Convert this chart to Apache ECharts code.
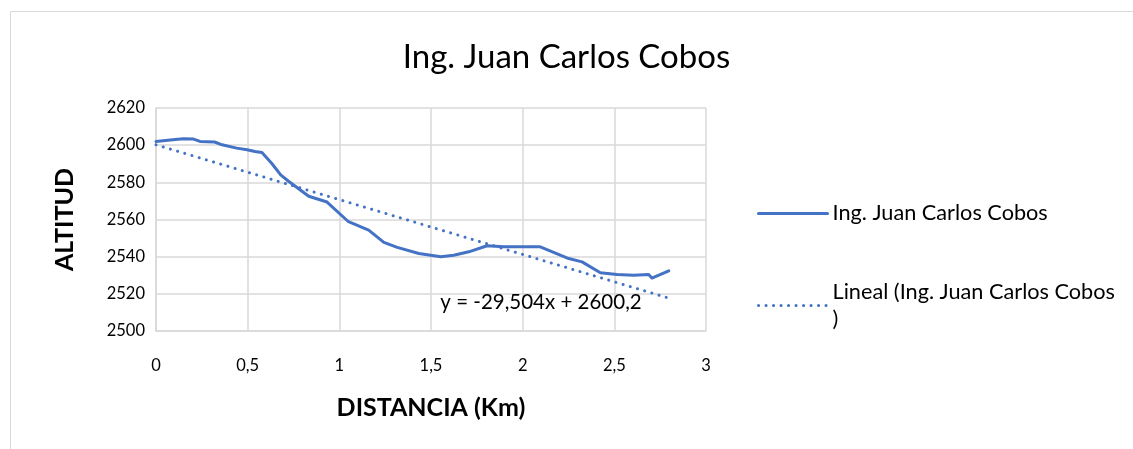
<!DOCTYPE html>
<html>
<head>
<meta charset="utf-8">
<script src="https://cdn.jsdelivr.net/npm/echarts@6/dist/echarts.min.js"></script>
<style>
html,body{margin:0;padding:0;background:#fff;}
#chart{width:1133px;height:449px;}
</style>
</head>
<body>
<div id="chart"></div>
<script>
// Data
const distanceKm = [0, 0.105, 0.15, 0.205, 0.24, 0.32, 0.36, 0.44, 0.497, 0.54, 0.578, 0.633, 0.68, 0.723, 0.833, 0.933, 1.05, 1.16, 1.243, 1.316, 1.434, 1.553, 1.624, 1.706, 1.806, 1.897, 2.04, 2.096, 2.169, 2.251, 2.324, 2.424, 2.515, 2.606, 2.687, 2.705, 2.797];
const altitude =   [2602, 2603, 2603.4, 2603.3, 2602, 2601.7, 2600.2, 2598.4, 2597.5, 2596.6, 2596, 2590, 2584, 2580.6, 2572.5, 2569.4, 2558.8, 2554.3, 2547.7, 2545, 2541.7, 2540, 2540.8, 2542.6, 2545.9, 2545.3, 2545.3, 2545.3, 2542.3, 2539, 2537.2, 2531.3, 2530.4, 2530, 2530.4, 2528.5, 2532.4];
const trendX = [0, 2.8];
const trendY = [2600.2, 2517.6];
const equationText = 'y = -29,504x + 2600,2';
const equationAt = [2.1, 2515.6];
const seriesName = 'Ing. Juan Carlos Cobos';
const trendName = 'Lineal (Ing. Juan Carlos Cobos)';
const titleText = 'Ing. Juan Carlos Cobos';
const xName = 'DISTANCIA (Km)';
const yName = 'ALTITUD';

const FONT = 'Lato, "Noto Sans", sans-serif';
const BLUE = '#4472C4';
const GRID = '#d9d9d9';

const chart = echarts.init(document.getElementById('chart'), null, {renderer: 'canvas'});
const option = {
  backgroundColor: '#fff',
  animation: false,
  textStyle: {fontFamily: FONT},
  graphic: [{
    type: 'rect', left: 8, top: 9, silent: true,
    shape: {width: 1200, height: 500},
    style: {fill: 'none', stroke: GRID, lineWidth: 1}
  }],
  title: {
    text: titleText, left: 'center', top: 36,
    textStyle: {fontFamily: FONT, fontSize: 33, fontWeight: 'normal', color: '#000'}
  },
  legend: {
    orient: 'vertical', left: 752, top: 195, itemWidth: 69, itemHeight: 14, itemGap: 38,
    itemStyle: {opacity: 0},
    lineStyle: {width: 3},
    textStyle: {fontFamily: FONT, fontSize: 21.7, color: '#000', lineHeight: 27},
    formatter: function (n) { return n === trendName ? 'Lineal (Ing. Juan Carlos Cobos\n)' : n; },
    data: [
      {name: seriesName},
      {name: trendName, textStyle: {padding: [27, 0, 0, 0]}}
    ]
  },
  grid: {left: 156, right: 427, top: 108, bottom: 118, containLabel: false},
  xAxis: {
    type: 'value', min: 0, max: 3, interval: 0.5,
    name: xName, nameLocation: 'middle', nameGap: 64,
    nameTextStyle: {fontFamily: FONT, fontSize: 25, fontWeight: 'bold', color: '#000'},
    axisLine: {show: true, lineStyle: {color: GRID, width: 1.5}},
    axisTick: {show: false},
    axisLabel: {fontFamily: FONT, fontSize: 16.5, color: '#000', margin: 26,
      formatter: v => String(v).replace('.', ',')},
    splitLine: {show: true, lineStyle: {color: GRID, width: 1.5}}
  },
  yAxis: {
    type: 'value', min: 2500, max: 2620, interval: 20,
    name: yName, nameLocation: 'middle', nameGap: 79, nameRotate: 90,
    nameMoveOverlap: false,
    nameTextStyle: {fontFamily: FONT, fontSize: 25, fontWeight: 'bold', color: '#000'},
    axisLine: {show: true, lineStyle: {color: GRID, width: 1.5}},
    axisTick: {show: false},
    axisLabel: {fontFamily: FONT, fontSize: 16.5, color: '#000', margin: 11,
      formatter: v => String(v)},
    splitLine: {show: true, lineStyle: {color: GRID, width: 1.5}}
  },
  series: [
    {
      name: seriesName, type: 'line', showSymbol: false, symbol: 'none', smooth: false,
      lineStyle: {color: BLUE, width: 3, cap: 'round', join: 'round'},
      itemStyle: {color: BLUE},
      data: distanceKm.map((d, i) => [d, altitude[i]]),
      z: 3
    },
    {
      name: trendName, type: 'line', showSymbol: false, symbol: 'none',
      lineStyle: {color: BLUE, width: 3, type: [0.1, 7.4], cap: 'round'},
      itemStyle: {color: BLUE},
      data: trendX.map((d, i) => [d, trendY[i]]),
      markPoint: {
        symbol: 'circle', symbolSize: 0, silent: true,
        label: {show: true, formatter: equationText, fontFamily: FONT, fontSize: 20.5, color: '#000', position: 'inside'},
        data: [{coord: equationAt}]
      },
      z: 2
    }
  ]
};
chart.setOption(option);
</script>
</body>
</html>
